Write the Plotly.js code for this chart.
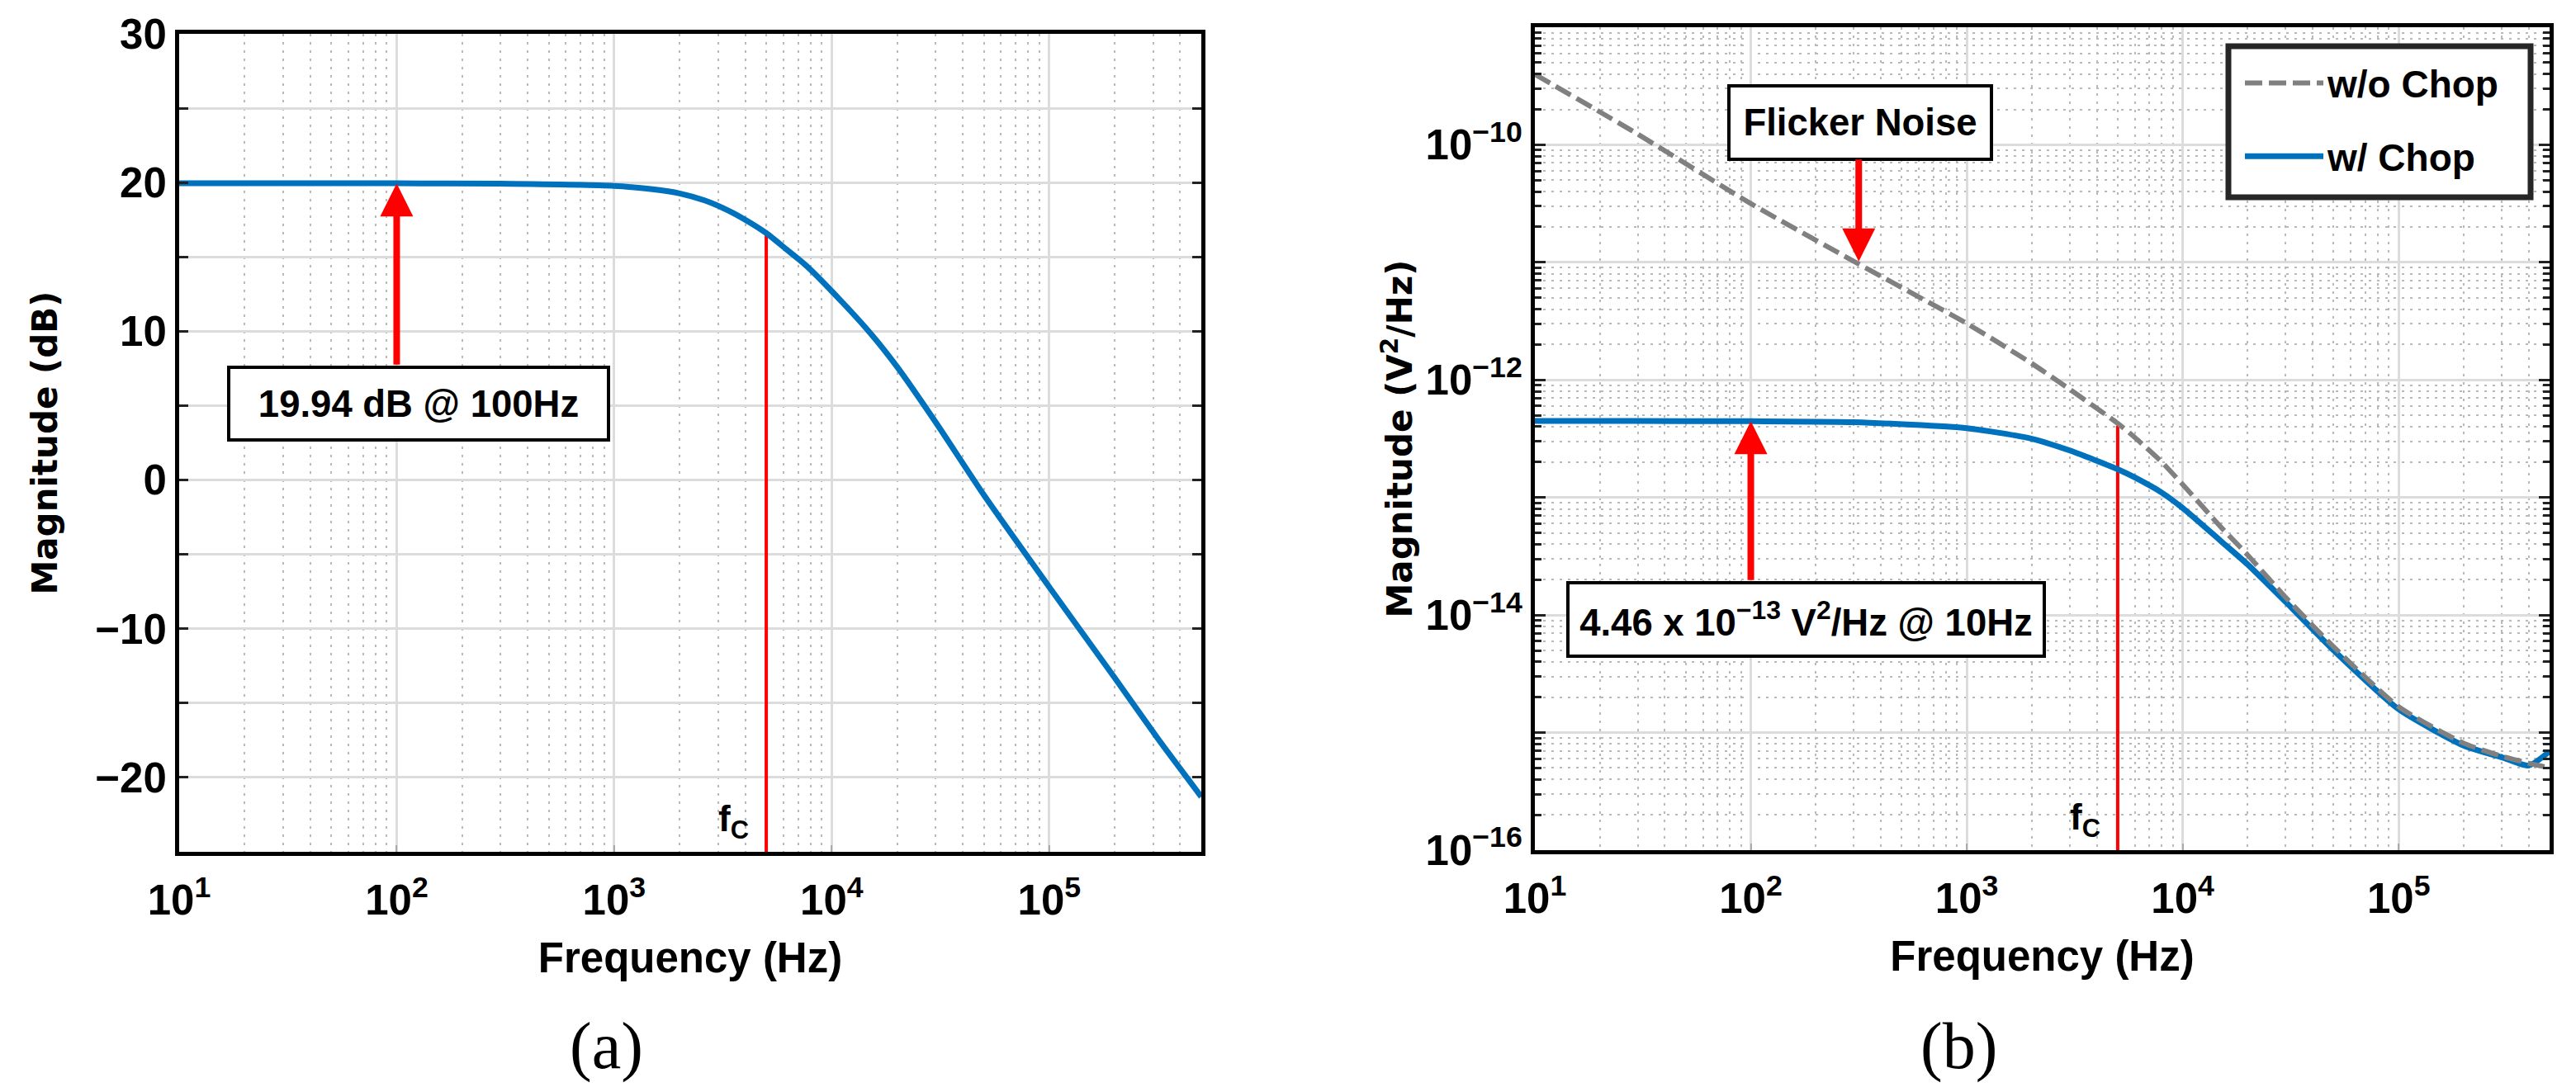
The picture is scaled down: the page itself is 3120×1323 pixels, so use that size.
<!DOCTYPE html>
<html><head><meta charset="utf-8">
<script src="https://cdn.plot.ly/plotly-3.0.1.min.js"></script>
<style>html,body{margin:0;padding:0;background:#fff}#chart{width:3120px;height:1323px}</style>
</head><body><div id="chart"></div>
<script>
// ---------- data ----------
// (a) gain magnitude
const freqA = [10, 30, 100, 300, 1000, 1500, 2000, 2600, 3300, 4000, 5000, 6200, 7600, 10000, 15000, 20000, 30000, 50000, 100000, 200000, 316000, 500000];
const gainA = [19.96, 19.96, 19.95, 19.92, 19.77, 19.55, 19.27, 18.8, 18.16, 17.5, 16.6, 15.5, 14.44, 12.7, 9.9, 7.6, 3.9, -1.0, -7.2, -13.3, -17.4, -21.3];
// (b) noise PSD
const freqB = [10, 30, 100, 300, 1000, 2000, 3000, 5000, 6000, 8000, 10000, 15000, 20000, 30000, 50000, 100000, 200000, 300000, 400000, 500000];
const noiseWithoutChop = [3.98e-10, 1.23e-10, 3.16e-11, 1.02e-11, 3.02e-12, 1.38e-12, 8.32e-13, 4.27e-13, 3.24e-13, 2.0e-13, 1.29e-13, 5.62e-14, 3.24e-14, 1.41e-14, 5.37e-15, 1.66e-15, 8.13e-16, 6.31e-16, 5.5e-16, 5.01e-16];
const noiseWithChop = [4.47e-13, 4.47e-13, 4.45e-13, 4.37e-13, 3.89e-13, 3.16e-13, 2.51e-13, 1.74e-13, 1.48e-13, 1.10e-13, 8.13e-14, 4.27e-14, 2.69e-14, 1.29e-14, 5.01e-15, 1.58e-15, 7.76e-16, 6.17e-16, 5.25e-16, 6.92e-16];
const legendNames = ['w/o Chop', 'w/ Chop'];
// corner frequency markers
const fcFreq = [5000, 5000];
const fcGainA = [-25, 16.6];
const fcNoiseB = [1e-16, 4.1e-13];
// annotated points
const markGainFreq = 100, markGainValue = 19.94;
const markNoiseFreq = 100, markNoiseValue = 4.46e-13;
const flickerFreq = 316, flickerValue = 1.02e-11;
const boxTexts = ['19.94 dB @ 100Hz', 'Flicker Noise', '4.46 x 10<sup>\u221213</sup> V<sup>2</sup>/Hz @ 10Hz'];
// ticks
const decadeTicks = [10, 100, 1000, 10000, 100000];
const decadeLabels = ['10<sup>1</sup>', '10<sup>2</sup>', '10<sup>3</sup>', '10<sup>4</sup>', '10<sup>5</sup>'];
const gainTicks = [-20, -10, 0, 10, 20, 30];
const gainLabels = ['\u221220', '\u221210', '0', '10', '20', '30'];
const gainHalfTicks = [-25, -15, -5, 5, 15, 25];
const noiseTicks = [1e-16, 1e-15, 1e-14, 1e-13, 1e-12, 1e-11, 1e-10, 1e-9];
const noiseLabels = ['10<sup>\u221216</sup>', '', '10<sup>\u221214</sup>', '', '10<sup>\u221212</sup>', '', '10<sup>\u221210</sup>', ''];

// ---------- helpers ----------
const W = 3120, H = 1323;
const px = v => v / W;
const py = v => 1 - v / H;
function minorOf(decades) {
  const out = [];
  decades.forEach(d => { for (let k = 2; k <= 9; k++) out.push(d * k); });
  return out;
}
const minorX = minorOf([10, 100, 1000, 10000, 100000]);
const minorY = minorOf([1e-16, 1e-15, 1e-14, 1e-13, 1e-12, 1e-11, 1e-10]);

const SANS = 'Liberation Sans, Arial, sans-serif';
const BLUE = '#0072BD', GRAY = '#808080', RED = '#FF0000';
const tickFont = {family: SANS, size: 51, weight: 700, color: '#000'};
const xTitleFont = {family: SANS, size: 51, weight: 700, color: '#000'};
const yTitleFont = {family: 'DejaVu Sans, sans-serif', size: 42, weight: 700, color: '#000'};
const boxFont = {family: SANS, size: 45.5, weight: 700, color: '#000'};
const fcFont = {family: SANS, size: 44, weight: 700, color: '#000'};

const traces = [
  {x: fcFreq, y: fcGainA, xaxis: 'x', yaxis: 'y', mode: 'lines', line: {color: RED, width: 4}, showlegend: false, hoverinfo: 'skip'},
  {x: freqA, y: gainA, xaxis: 'x', yaxis: 'y', mode: 'lines', line: {color: BLUE, width: 7, shape: 'spline', smoothing: 0.6}, showlegend: false},
  {x: fcFreq, y: fcNoiseB, xaxis: 'x2', yaxis: 'y2', mode: 'lines', line: {color: RED, width: 4}, showlegend: false, hoverinfo: 'skip'},
  {x: freqB, y: noiseWithChop, xaxis: 'x2', yaxis: 'y2', mode: 'lines', name: legendNames[1], legendgroup: 'g2', legendrank: 2,
   line: {color: BLUE, width: 7, shape: 'spline', smoothing: 0.6}},
  {x: freqB, y: noiseWithoutChop, xaxis: 'x2', yaxis: 'y2', mode: 'lines', name: legendNames[0], legendgroup: 'g1', legendrank: 1,
   line: {color: GRAY, width: 6, dash: '21px,8px', shape: 'spline', smoothing: 0.6}}
];

function xAxis(domain, anchor) {
  return {
    domain: domain, anchor: anchor, type: 'log', range: [1, Math.log10(5e5)],
    tickmode: 'array', tickvals: decadeTicks, ticktext: decadeLabels, tickfont: tickFont,
    ticks: 'inside', ticklen: 8, tickwidth: 2, tickcolor: '#aaaaaa', ticklabelstandoff: 10,
    showline: true, linecolor: '#000', linewidth: 5, mirror: true,
    showgrid: true, gridcolor: '#dcdcdc', gridwidth: 3, zeroline: false,
    minor: {tickmode: 'array', tickvals: minorX, ticks: '', showgrid: true, gridcolor: '#b9b9b9', gridwidth: 2, griddash: '3px,7px'},
    title: {text: 'Frequency (Hz)', font: xTitleFont, standoff: 26},
    automargin: false
  };
}

function box(x, y, text, w, h) {
  return {xref: 'paper', yref: 'paper', x: px(x), y: py(y), xanchor: 'center', yanchor: 'middle',
    text: text, showarrow: false, width: w, height: h, borderpad: 0, borderwidth: 4,
    bordercolor: '#000', bgcolor: '#fff', font: boxFont};
}
function arrow(xref, yref, x, y, ay) {
  return {xref: xref, yref: yref, x: x, y: y, text: '', showarrow: true, ax: 0, ay: ay,
    arrowhead: 2, arrowsize: 1, arrowwidth: 8, arrowcolor: RED, standoff: 0};
}

const layout = {
  width: W, height: H, autosize: false,
  margin: {l: 0, r: 0, t: 0, b: 0, pad: 0},
  paper_bgcolor: '#fff', plot_bgcolor: '#fff',
  font: {family: SANS, color: '#000'},
  hovermode: false,
  xaxis: xAxis([px(217), px(1455)], 'y'),
  yaxis: {
    domain: [py(1032), py(41)], anchor: 'x', range: [-25, 30],
    tickmode: 'array', tickvals: gainTicks, ticktext: gainLabels, tickfont: tickFont,
    ticks: 'inside', ticklen: 11, tickwidth: 3, tickcolor: '#222',
    showline: true, linecolor: '#000', linewidth: 5, mirror: 'ticks',
    showgrid: true, gridcolor: '#dcdcdc', gridwidth: 3, zeroline: false,
    minor: {tickmode: 'array', tickvals: gainHalfTicks, ticks: 'inside', ticklen: 11, tickwidth: 3, tickcolor: '#222',
            showgrid: true, gridcolor: '#dcdcdc', gridwidth: 3, griddash: 'solid'},
    title: {text: 'Magnitude (dB)', font: yTitleFont, standoff: 34},
    automargin: false
  },
  xaxis2: xAxis([px(1859), px(3088)], 'y2'),
  yaxis2: {
    domain: [py(1030), py(33)], anchor: 'x2', type: 'log', range: [-16, -9],
    tickmode: 'array', tickvals: noiseTicks, ticktext: noiseLabels, tickfont: tickFont,
    ticks: 'inside', ticklen: 13, tickwidth: 3, tickcolor: '#222',
    showline: true, linecolor: '#000', linewidth: 5, mirror: 'ticks',
    showgrid: true, gridcolor: '#dcdcdc', gridwidth: 3, zeroline: false,
    minor: {tickmode: 'array', tickvals: minorY, ticks: 'inside', ticklen: 8, tickwidth: 3, tickcolor: '#222',
            showgrid: true, gridcolor: '#b9b9b9', gridwidth: 2, griddash: '3px,7px'},
    title: {text: 'Magnitude (V<sup>2</sup>/Hz)', font: yTitleFont, standoff: 4},
    automargin: false
  },
  showlegend: true,
  legend: {
    x: px(2714), y: py(64), xanchor: 'left', yanchor: 'top',
    bgcolor: 'rgba(0,0,0,0)', borderwidth: 0,
    font: {family: SANS, size: 46, weight: 700, color: '#000'},
    itemwidth: 95, tracegroupgap: 26, traceorder: 'grouped'
  },
  shapes: [
    {type: 'rect', xref: 'paper', yref: 'paper', x0: px(2699), x1: px(3065), y0: py(239), y1: py(56),
     line: {color: '#262626', width: 7}, fillcolor: '#fff', layer: 'above'}
  ],
  annotations: [
    box(507, 489, boxTexts[0], 456, 84),
    box(2253, 148.5, boxTexts[1], 314, 85),
    box(2187.5, 750.5, boxTexts[2], 573, 85),
    arrow('x', 'y', Math.log10(markGainFreq), markGainValue, 221),
    arrow('x2', 'y2', Math.log10(flickerFreq), Math.log10(flickerValue), -125),
    arrow('x2', 'y2', Math.log10(markNoiseFreq), Math.log10(markNoiseValue), 194),
    {xref: 'x', yref: 'y domain', x: Math.log10(fcFreq[0]), y: 0, xanchor: 'right', yanchor: 'bottom',
     xshift: -20, yshift: 8, text: 'f<sub>C</sub>', showarrow: false, borderpad: 0, font: fcFont},
    {xref: 'x2', yref: 'y2 domain', x: Math.log10(fcFreq[0]), y: 0, xanchor: 'right', yanchor: 'bottom',
     xshift: -20, yshift: 8, text: 'f<sub>C</sub>', showarrow: false, borderpad: 0, font: fcFont},
    {xref: 'paper', yref: 'paper', x: px(734), y: py(1267), xanchor: 'center', yanchor: 'middle', text: '(a)', showarrow: false,
     font: {family: 'Liberation Serif, serif', size: 80, color: '#000'}},
    {xref: 'paper', yref: 'paper', x: px(2372), y: py(1267), xanchor: 'center', yanchor: 'middle', text: '(b)', showarrow: false,
     font: {family: 'Liberation Serif, serif', size: 80, color: '#000'}}
  ]
};

Plotly.newPlot('chart', traces, layout, {staticPlot: true, displayModeBar: false});
</script>
</body></html>
